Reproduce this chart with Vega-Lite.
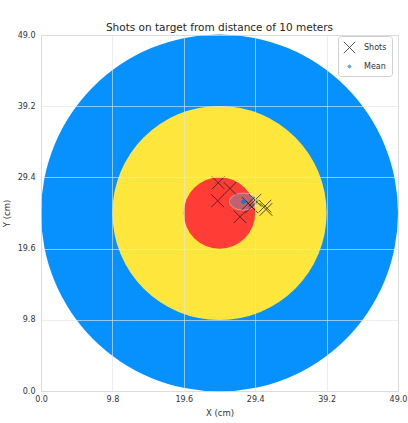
{
  "$schema": "https://vega.github.io/schema/vega-lite/v6.json",
  "autosize": {"type": "none"},
  "width": 357,
  "height": 356,
  "padding": {"left": 41, "top": 35, "right": 10, "bottom": 32},
  "background": "white",
  "title": {"text": "Shots on target from distance of 10 meters", "fontSize": 10.5, "fontWeight": "normal", "font": "DejaVu Sans", "color": "#262626", "offset": -2},
  "config": {
    "view": {"stroke": "#cfcfcf", "strokeWidth": 1},
    "axis": {"font": "DejaVu Sans", "labelFont": "DejaVu Sans", "titleFont": "DejaVu Sans", "labelFontSize": 8, "titleFontSize": 8.5, "titleFontWeight": "normal", "labelColor": "#333333", "titleColor": "#333333", "gridColor": "#e4e4e4", "gridOpacity": 0.65, "gridWidth": 1, "domain": false, "ticks": false, "labelFlush": false},
    "legend": {"title": null, "orient": "none", "legendX": 297, "legendY": 1, "padding": 5, "strokeColor": "#d0d0d0", "fillColor": "rgba(255,255,255,0.85)", "cornerRadius": 3, "labelFont": "DejaVu Sans", "labelFontSize": 8, "labelColor": "#333333", "rowPadding": 4, "symbolSize": 130, "symbolStrokeWidth": 0.9, "symbolOffset": 0, "labelOffset": 8}
  },
  "datasets": {
    "rings": [
      {"ring": "outer", "x": 24.5, "y": 24.5, "r": 24.5},
      {"ring": "middle", "x": 24.5, "y": 24.5, "r": 14.7},
      {"ring": "inner", "x": 24.5, "y": 24.5, "r": 4.9}
    ],
    "shots": [
      {"series": "Shots", "x": 24.33, "y": 28.65},
      {"series": "Shots", "x": 25.94, "y": 27.88},
      {"series": "Shots", "x": 24.25, "y": 26.18},
      {"series": "Shots", "x": 27.31, "y": 23.98},
      {"series": "Shots", "x": 28.45, "y": 25.82},
      {"series": "Shots", "x": 28.92, "y": 25.35},
      {"series": "Shots", "x": 29.37, "y": 26.27},
      {"series": "Shots", "x": 30.88, "y": 24.99},
      {"series": "Shots", "x": 30.74, "y": 25.45}
    ],
    "mean": [
      {"series": "Mean", "x": 27.8, "y": 26.06}
    ]
  },
  "layer": [
    {
      "data": {"name": "rings"},
      "mark": {"type": "point", "shape": "circle", "filled": true, "opacity": 1, "strokeWidth": 0},
      "encoding": {
        "x": {"field": "x", "type": "quantitative", "scale": {"domain": [0, 49], "nice": false, "zero": false}, "axis": {"values": [0, 9.8, 19.6, 29.4, 39.2, 49.0], "format": ".1f", "title": "X (cm)", "labelPadding": 4, "titlePadding": 5, "zindex": 1, "labelFlush": false}},
        "y": {"field": "y", "type": "quantitative", "scale": {"domain": [0, 49], "nice": false, "zero": false}, "axis": {"values": [0, 9.8, 19.6, 29.4, 39.2, 49.0], "format": ".1f", "title": "Y (cm)", "labelPadding": 6, "titlePadding": 6, "zindex": 1, "labelFlush": false}},
        "size": {"field": "r", "type": "quantitative", "scale": {"type": "pow", "exponent": 2, "domain": [0, 24.5], "range": [0, 127449], "zero": true}, "legend": null},
        "fill": {"field": "ring", "type": "nominal", "scale": {"domain": ["outer", "middle", "inner"], "range": ["#0790ff", "#ffe63c", "#ff3d36"]}, "legend": null}
      }
    },
    {
      "data": {"name": "mean"},
      "mark": {"type": "point", "shape": "M-1,0A1,0.6 0 1,0 1,0A1,0.6 0 1,0 -1,0Z", "size": 800, "filled": true, "fill": "#7090b4", "fillOpacity": 0.45, "stroke": "#e8e8e8", "strokeOpacity": 0.5, "strokeWidth": 1},
      "encoding": {
        "x": {"field": "x", "type": "quantitative"},
        "y": {"field": "y", "type": "quantitative"}
      }
    },
    {
      "data": {"name": "shots"},
      "mark": {"type": "point", "filled": false, "size": 160, "strokeWidth": 0.9, "opacity": 0.85},
      "encoding": {
        "x": {"field": "x", "type": "quantitative"},
        "y": {"field": "y", "type": "quantitative"},
        "shape": {"field": "series", "type": "nominal",
          "scale": {"domain": ["Shots", "Mean"], "range": ["M-1,-1L1,1M-1,1L1,-1", "M-0.26,0A0.26,0.26 0 1,0 0.26,0A0.26,0.26 0 1,0 -0.26,0ZM-0.12,0A0.12,0.12 0 1,0 0.12,0A0.12,0.12 0 1,0 -0.12,0Z"]}},
        "color": {"field": "series", "type": "nominal",
          "scale": {"domain": ["Shots", "Mean"], "range": ["#1e1e1e", "#1f77b4"]}}
      }
    },
    {
      "data": {"name": "mean"},
      "mark": {"type": "point", "filled": false, "size": 160, "strokeWidth": 1.2, "opacity": 1},
      "encoding": {
        "x": {"field": "x", "type": "quantitative"},
        "y": {"field": "y", "type": "quantitative"},
        "shape": {"field": "series", "type": "nominal"},
        "color": {"field": "series", "type": "nominal"}
      }
    }
  ]
}
